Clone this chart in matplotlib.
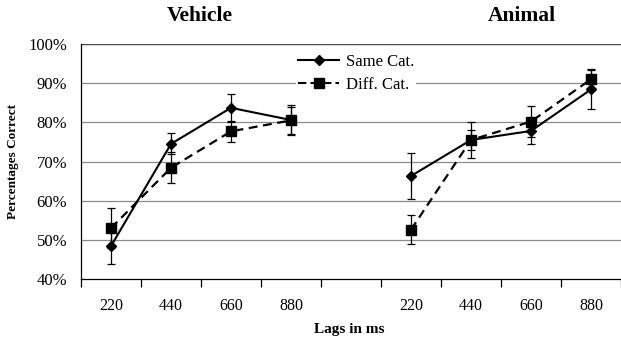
import numpy as np
import matplotlib
matplotlib.use('Agg')
import matplotlib.pyplot as plt
from matplotlib.lines import Line2D

# data
lags = ['220', '440', '660', '880']
groups = ['Vehicle', 'Animal']

veh_same = [48.4, 74.5, 83.7, 80.6]
veh_same_err = [4.6, 2.7, 3.6, 3.8]
veh_diff = [53.0, 68.4, 77.7, 80.5]
veh_diff_err = [5.0, 4.0, 2.6, 3.5]

ani_same = [66.3, 75.5, 77.8, 88.4]
ani_same_err = [5.9, 2.5, 3.4, 5.0]
ani_diff = [52.6, 75.5, 80.2, 91.0]
ani_diff_err = [3.7, 4.5, 3.9, 2.7]

plt.rcParams['font.family'] = 'Liberation Serif'

fig = plt.figure(figsize=(6.21, 3.43), dpi=100)
ax = fig.add_axes([81 / 621, 64 / 343, 540 / 621, 235 / 343])

x_veh = np.arange(4)
x_ani = np.arange(4) + 5

# gridlines
for v in [50, 60, 70, 80, 90]:
    ax.axhline(v, color='#8a8a8a', lw=0.9, zorder=0)
ax.axhline(100, color='#444444', lw=1.0, zorder=0)

err_kw = dict(ecolor='black', elinewidth=0.9, capsize=3, capthick=0.9)

for xs, same, se, diff, de in [(x_veh, veh_same, veh_same_err, veh_diff, veh_diff_err),
                               (x_ani, ani_same, ani_same_err, ani_diff, ani_diff_err)]:
    ax.errorbar(xs, diff, yerr=de, color='black', ls=(0, (4, 2.5)), lw=1.6,
                marker='s', ms=7, zorder=3, **err_kw)
    ax.errorbar(xs, same, yerr=se, color='black', ls='-', lw=1.5,
                marker='D', ms=5.5, zorder=4, **err_kw)

ax.set_xlim(-0.5, 8.5)
ax.set_ylim(40, 100)
ax.set_yticks(np.arange(40, 101, 10))
ax.set_yticklabels([f'{v}%' for v in range(40, 101, 10)])

ax.set_xticks(list(x_veh) + list(x_ani))
ax.set_xticklabels(lags + lags)
ax.set_xticks(np.arange(-0.5, 9, 1), minor=True)
ax.tick_params(axis='x', which='major', length=0, pad=14, labelsize=11.5)
ax.tick_params(axis='x', which='minor', length=6, width=0.9, direction='out')
ax.tick_params(axis='y', length=0, pad=10, labelsize=12)

for s in ['top', 'right']:
    ax.spines[s].set_visible(False)
ax.spines['left'].set_linewidth(0.9)
ax.spines['bottom'].set_linewidth(0.9)

# legend
handles = [Line2D([], [], color='black', ls='-', lw=1.5, marker='D', ms=5.5),
           Line2D([], [], color='black', ls=(0, (4, 2)), lw=1.5, marker='s', ms=7)]
leg = ax.legend(handles, ['Same Cat.', 'Diff. Cat.'], loc='upper left',
                bbox_to_anchor=((296 - 81) / 540, (279 - 52) / 235),
                frameon=True, fontsize=12, handlelength=2.5, handletextpad=0.4,
                labelspacing=0.45, borderpad=0.1, borderaxespad=0)
leg.get_frame().set_edgecolor('none')
leg.get_frame().set_facecolor('white')
leg.get_frame().set_alpha(1)
leg.set_zorder(5)

fig.text(200 / 621, 1 - 16 / 343, groups[0], ha='center', va='center',
         fontsize=15.5, fontweight='bold')
fig.text(522 / 621, 1 - 16 / 343, groups[1], ha='center', va='center',
         fontsize=15.5, fontweight='bold')
fig.text(13 / 621, 1 - 162 / 343, 'Percentages Correct', rotation=90,
         ha='center', va='center', fontsize=9.5, fontweight='bold')
fig.text(349 / 621, 1 - 330 / 343, 'Lags in ms', ha='center', va='center',
         fontsize=11, fontweight='bold')

fig.savefig('out.png', dpi=100)
